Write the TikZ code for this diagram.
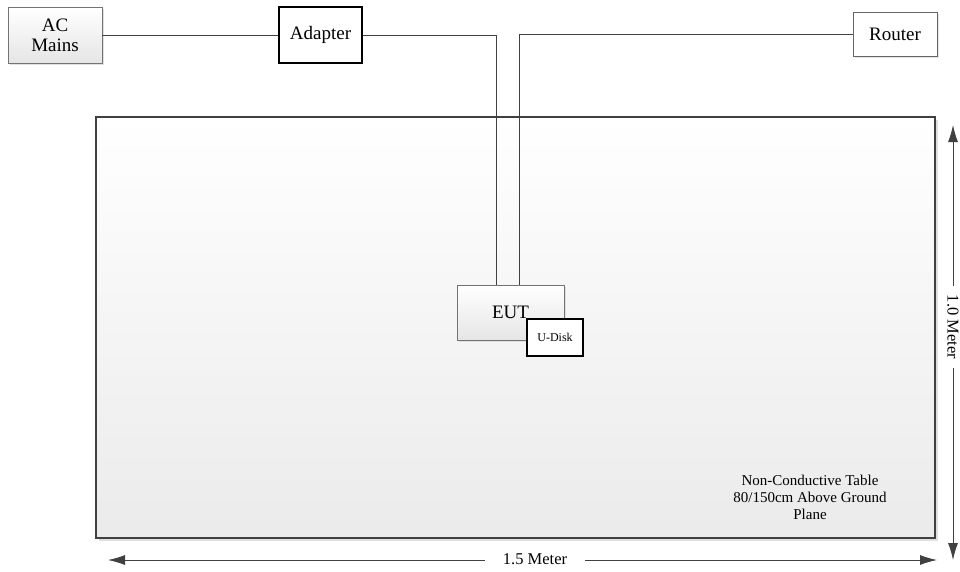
\documentclass[tikz,border=0pt]{standalone}
\usepackage{fontspec}
\setmainfont{Liberation Serif}
\usetikzlibrary{arrows.meta,calc,shadows}
\begin{document}
\begin{tikzpicture}[x=1pt,y=-1pt,
  wire/.style={draw=black!75, line width=0.9pt},
  gbox/.style={draw=black!55, line width=0.8pt, top color=white, bottom color=black!10,
     drop shadow={shadow xshift=2pt, shadow yshift=-2pt, fill=black!12, opacity=1},
     inner sep=0pt, align=center, font=\fontsize{19}{20}\selectfont},
  wbox/.style={draw=black, line width=1.2pt, fill=white, inner sep=0pt, align=center,
     font=\fontsize{19}{20}\selectfont},
  rbox/.style={draw=black!60, line width=0.8pt, fill=white, inner sep=0pt, align=center,
     drop shadow={shadow xshift=2pt, shadow yshift=-2pt, fill=black!10, opacity=1},
     font=\fontsize{19}{20}\selectfont},
  dim/.style={draw=black!75, line width=0.9pt, {Latex[length=17pt,width=10pt]}-{Latex[length=17pt,width=10pt]}},
  dimlabel/.style={fill=white, inner ysep=1pt, font=\fontsize{16.5}{18}\selectfont}
]
\useasboundingbox (0,0) rectangle (960,571);

% table
\fill[black!12] (99,120) rectangle (938,541);
\shade[top color=white, bottom color=black!8] (96,117) rectangle (935,538);
\draw[draw=black!75, line width=2.8pt] (96,117) rectangle (935,538);
\node[align=center, font=\fontsize{15}{17}\selectfont] (tabletext) at (810,497)
  {Non-Conductive Table\\80/150cm Above Ground\\Plane};

% boxes
\node[gbox, minimum width=94pt, minimum height=56pt] (ac) at (55,35) {AC\\Mains};
\node[wbox, minimum width=83pt, minimum height=56pt] (adapter) at (320.5,35) {Adapter};
\node[rbox, minimum width=84pt, minimum height=44pt] (router) at (895,34) {Router};
\node[gbox, minimum width=107pt, minimum height=55pt] (eut) at (510.5,312.5) {EUT};
\node[wbox, minimum width=56pt, minimum height=37pt, font=\fontsize{12}{14}\selectfont] (udisk) at (555,337.5) {U-Disk};

% wires
\coordinate (eutA) at ($(eut.north west)+(40,0)$);
\coordinate (eutB) at ($(eut.north west)+(63,0)$);
\draw[wire] (ac.east) -- (adapter.west);
\draw[wire] (adapter.east) -| (eutA);
\draw[wire] (router.west) -| (eutB);

% dimensions
\coordinate (vtop) at (953,125);
\coordinate (vbot) at (953,560);
\draw[dim] (vtop) -- (vbot);
\node[dimlabel, rotate=-90, inner xsep=9pt] (vlabel) at (953,327) {1.0 Meter};

\coordinate (hleft) at (108,560);
\coordinate (hright) at (937,560);
\draw[dim] (hleft) -- (hright);
\node[dimlabel, inner xsep=18pt] (hlabel) at (535,559) {1.5 Meter};
\end{tikzpicture}
\end{document}
